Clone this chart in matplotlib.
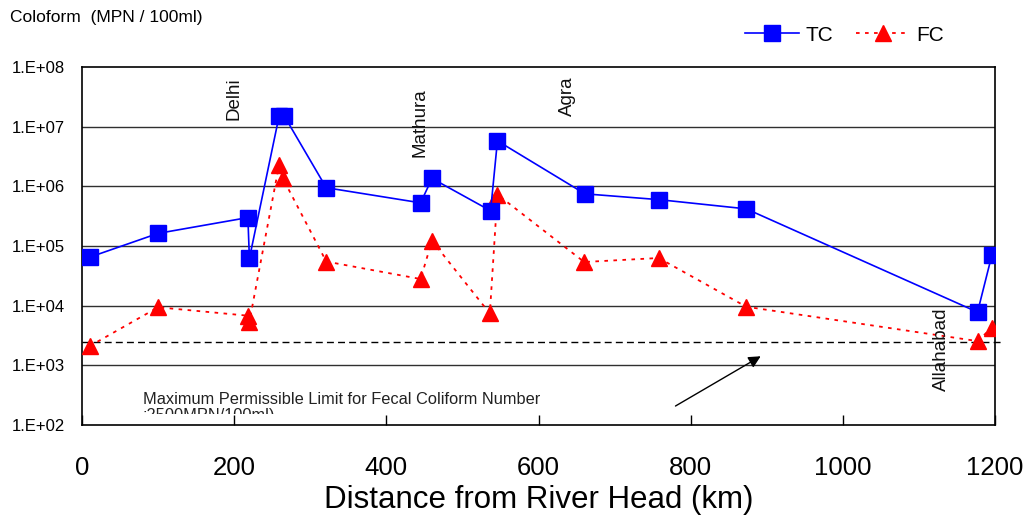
import matplotlib
matplotlib.use("Agg")
import matplotlib.pyplot as plt
from matplotlib.patches import Rectangle

# Sampling stations along the river (km from head) and coliform counts (MPN/100ml)
tc_km = [10, 100, 218, 220, 259, 266, 321, 445, 460, 537, 546, 661, 758, 873, 1177, 1196]
tc_val = [6.5e4, 1.63e5, 3.0e5, 6.2e4, 1.5e7, 1.5e7, 9.5e5, 5.3e5, 1.36e6, 3.9e5, 5.8e6,
          7.5e5, 6.0e5, 4.2e5, 7.8e3, 7.2e4]

fc_km = [10, 100, 218, 220, 259, 264, 321, 445, 460, 536, 546, 660, 758, 873, 1177, 1196]
fc_val = [2.1e3, 9.4e3, 6.8e3, 5.4e3, 2.3e6, 1.36e6, 5.5e4, 2.8e4, 1.23e5, 7.4e3, 7.3e5,
          5.4e4, 6.3e4, 9.6e3, 2.55e3, 4.3e3]

fc_limit = 2500

cities = ["Delhi", "Mathura", "Agra", "Allahabad"]
city_km = [200, 444, 638, 1130]
city_y = [3.0e7, 1.15e7, 3.2e7, 1.85e3]

y_ticks = [1e2, 1e3, 1e4, 1e5, 1e6, 1e7, 1e8]
y_tick_labels = ["1.E+02", "1.E+03", "1.E+04", "1.E+05", "1.E+06", "1.E+07", "1.E+08"]
x_ticks = [0, 200, 400, 600, 800, 1000, 1200]

font = "Liberation Sans"
plt.rcParams["font.family"] = [font, "DejaVu Sans"]

fig = plt.figure(figsize=(10.29, 5.2), dpi=100)
ax = fig.add_axes([0.0797, 0.1827, 0.8873, 0.6883])

ax.set_yscale("log")
ax.set_xlim(0, 1200)
ax.set_ylim(1e2, 1e8)

# decade grid lines
for v in y_ticks[1:-1]:
    ax.axhline(v, color="#303030", lw=1.0, zorder=1)

ax.plot(tc_km, tc_val, color="#0000ff", lw=1.2, marker="s", markersize=11,
        markerfacecolor="#0000ff", markeredgecolor="#0000ff", label="TC", zorder=4)
ax.plot(fc_km, fc_val, color="#ff0000", lw=1.3, ls=(0, (2, 3)), marker="^",
        markersize=11, markerfacecolor="#ff0000", markeredgecolor="#ff0000",
        label="FC", zorder=3)

# permissible limit for fecal coliform
ax.plot([0, 1212], [fc_limit, fc_limit], color="black", lw=1.0, ls=(0, (5, 3)),
        clip_on=False, zorder=2)

ax.annotate("", xy=(892, 1.42e3), xytext=(780, 2.08e2),
            arrowprops=dict(arrowstyle="-|>", color="black", lw=1.0,
                            mutation_scale=18, shrinkA=0, shrinkB=0))

ax.text(80, 2.72e2, "Maximum Permissible Limit for Fecal Coliform Number",
        fontsize=11.8, ha="left", va="center", color="#222222")
note = ax.text(80, 1.42e2, ":2500MPN/100ml)", fontsize=11.8, ha="left",
               va="center", color="#222222", clip_on=True)
note.set_clip_path(Rectangle((0, 0.031), 1, 1, transform=ax.transAxes))

for name, xk, yv in zip(cities, city_km, city_y):
    ax.text(xk, yv, name, rotation=90, fontsize=13.5, ha="center", va="center",
            color="#111111", zorder=5)

ax.set_yticks(y_ticks)
ax.set_yticklabels(y_tick_labels, fontsize=12)
ax.yaxis.set_minor_locator(matplotlib.ticker.NullLocator())
ax.tick_params(axis="y", length=0, pad=12)
ax.set_xticks(x_ticks)
ax.set_xticklabels([str(v) for v in x_ticks], fontsize=18.5)
ax.tick_params(axis="x", direction="in", length=7, width=1, pad=22)
ax.set_xlabel("Distance from River Head (km)", fontsize=22.5, labelpad=4)

for s in ax.spines.values():
    s.set_color("black")
    s.set_linewidth(1.2)

fig.text(0.010, 0.967, "Coloform  (MPN / 100ml)", fontsize=12.5, ha="left", va="center")

ax.legend(loc="center", bbox_to_anchor=(0.835, 1.089), ncol=2, frameon=False,
          fontsize=15, handlelength=2.6, columnspacing=1.1, handletextpad=0.3)

fig.savefig("out.png", dpi=100)
